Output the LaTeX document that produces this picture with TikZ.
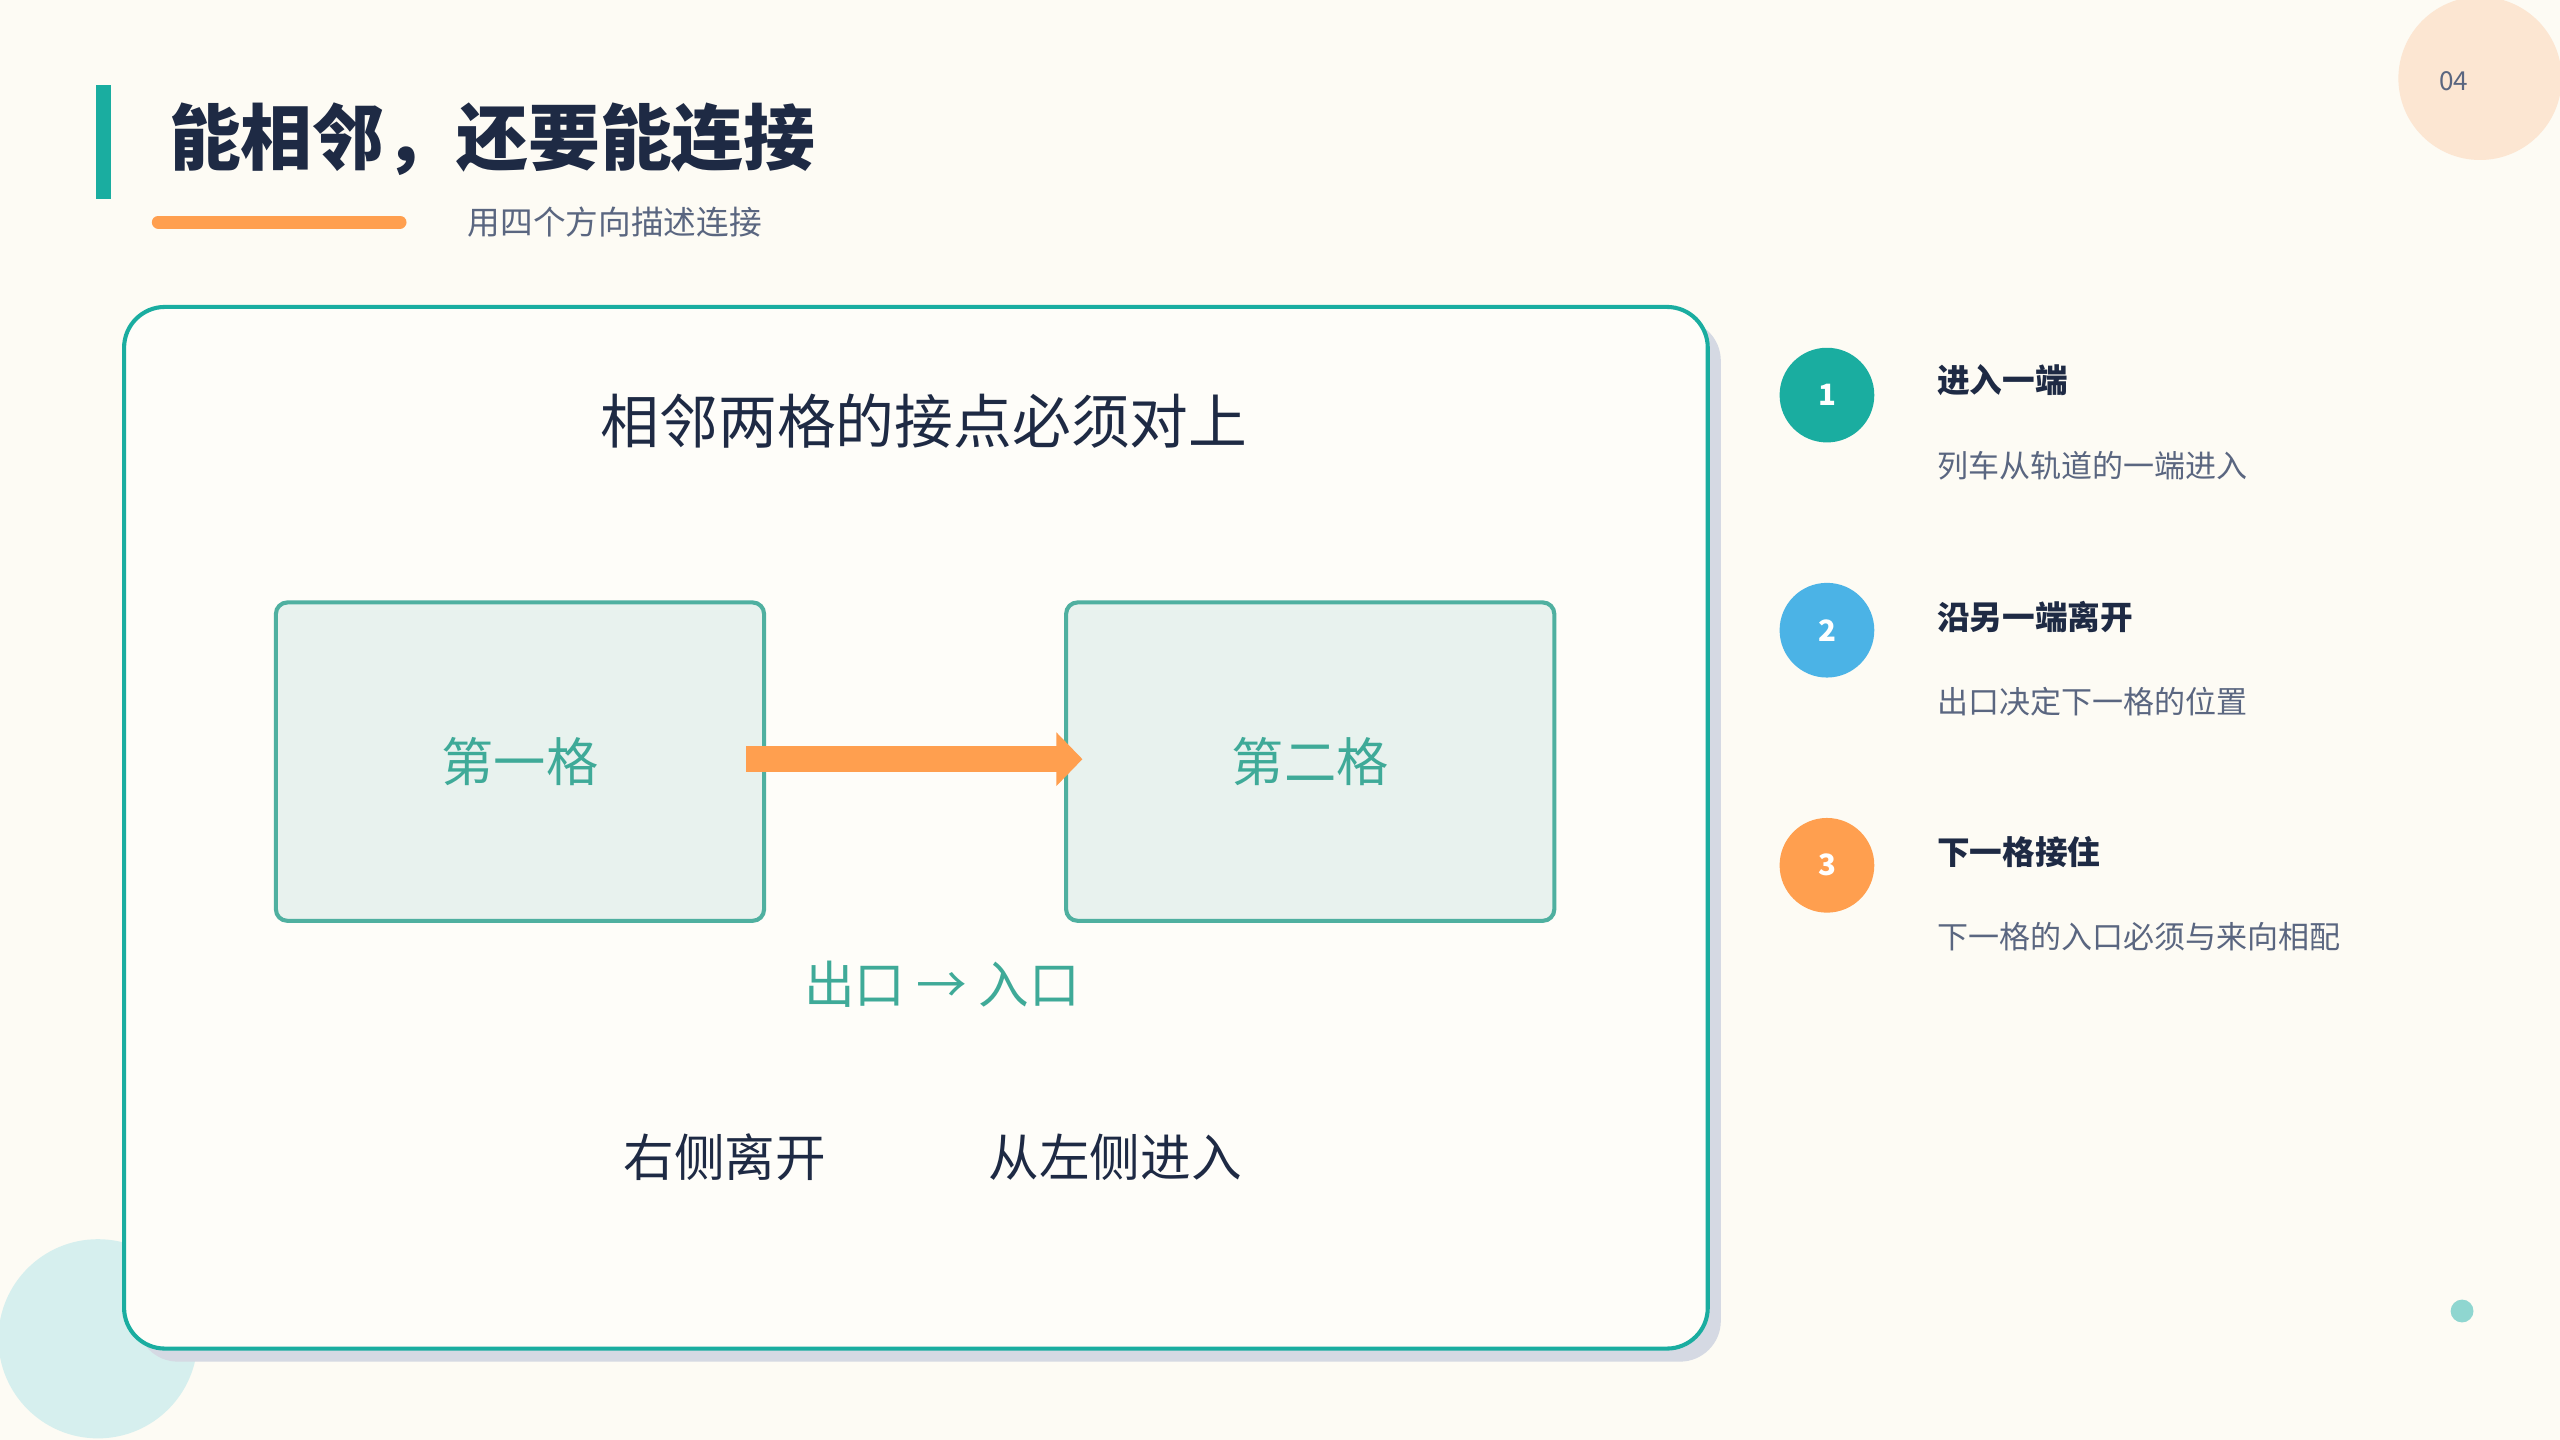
\documentclass[tikz,border=0pt]{standalone}
\usepackage{fontspec}
\setmainfont{Noto Sans CJK SC}
\usetikzlibrary{arrows.meta}
\definecolor{bg}{HTML}{FDFBF4}
\definecolor{teal}{HTML}{1AADA0}
\definecolor{tealt}{HTML}{3FAA98}
\definecolor{dark}{HTML}{1E2A44}
\definecolor{gray}{HTML}{5A6680}
\definecolor{orange}{HTML}{FF9F4F}
\definecolor{blue}{HTML}{4BB3E6}
\definecolor{peach}{HTML}{FCE6D2}
\definecolor{cyanl}{HTML}{D6EFEE}
\definecolor{dot}{HTML}{8FD6D0}
\definecolor{panel}{HTML}{FEFDF9}
\definecolor{boxf}{HTML}{E8F2EE}
\definecolor{boxb}{HTML}{4FB0A0}
\definecolor{shadow}{HTML}{D5D9E3}
\begin{document}
\begin{tikzpicture}[x=1pt,y=-1pt,
  cell/.style={draw=boxb,line width=2.5pt,fill=boxf,rounded corners=7pt,minimum width=299pt,minimum height=195pt,text=tealt,font=\fontsize{32}{36}\selectfont},
  num/.style={circle,minimum size=58pt,text=white,font=\bfseries\fontsize{18}{20}\selectfont},
  head/.style={anchor=west,text=dark,font=\bfseries\fontsize{20}{24}\selectfont},
  desc/.style={anchor=west,text=gray,font=\fontsize{19}{22}\selectfont},
  big/.style={text=dark,font=\fontsize{31}{36}\selectfont}]
\fill[bg] (0,0) rectangle (1568,882);
\useasboundingbox (0,0) rectangle (1568,882);
\fill[peach] (1519,48) circle (50);
\fill[cyanl] (60,820) circle (61);
\fill[dot] (1508,803) circle (7);
\node[text=gray,font=\fontsize{16}{18}\selectfont] (pg) at (1503,50) {04};
\fill[teal] (59,52) rectangle (68,122);
\node[anchor=west,text=dark,font=\bfseries\fontsize{44}{50}\selectfont] (title) at (100,85) {能相邻，还要能连接};
\draw[orange,line width=8pt,line cap=round] (97,136) -- (245,136);
\node[anchor=west,text=gray,font=\fontsize{20}{24}\selectfont] (sub) at (283,136) {用四个方向描述连接};
\fill[shadow,rounded corners=25pt] (84,196) rectangle (1054,834);
\draw[teal,line width=2.5pt,fill=panel,rounded corners=25pt] (76,188) rectangle (1046,826);
\node[text=dark,font=\fontsize{36}{40}\selectfont] (t1) at (566,258) {相邻两格的接点必须对上};
\node[cell] (a) at (318.5,466.5) {第一格};
\node[cell] (b) at (802.5,466.5) {第二格};
\coordinate (as) at (457,465);
\coordinate (ae) at (663,465);
\draw[orange,line width=16pt,-{Triangle[length=16pt,width=32pt]}] (as) -- (ae);
\node[text=tealt,font=\fontsize{31}{36}\selectfont] (io) at (577,603) {出口 → 入口};
\node[big] (l1) at (444,709) {右侧离开};
\node[big] (l2) at (683,709) {从左侧进入};
\node[num,fill=teal] (n1) at (1119,242) {1};
\node[num,fill=blue] (n2) at (1119,386) {2};
\node[num,fill=orange] (n3) at (1119,530) {3};
\node[head] (h1) at (1183,233) {进入一端};
\node[desc] (d1) at (1183,285) {列车从轨道的一端进入};
\node[head] (h2) at (1183,378) {沿另一端离开};
\node[desc] (d2) at (1183,430) {出口决定下一格的位置};
\node[head] (h3) at (1183,522) {下一格接住};
\node[desc] (d3) at (1183,574) {下一格的入口必须与来向相配};
\end{tikzpicture}
\end{document}
